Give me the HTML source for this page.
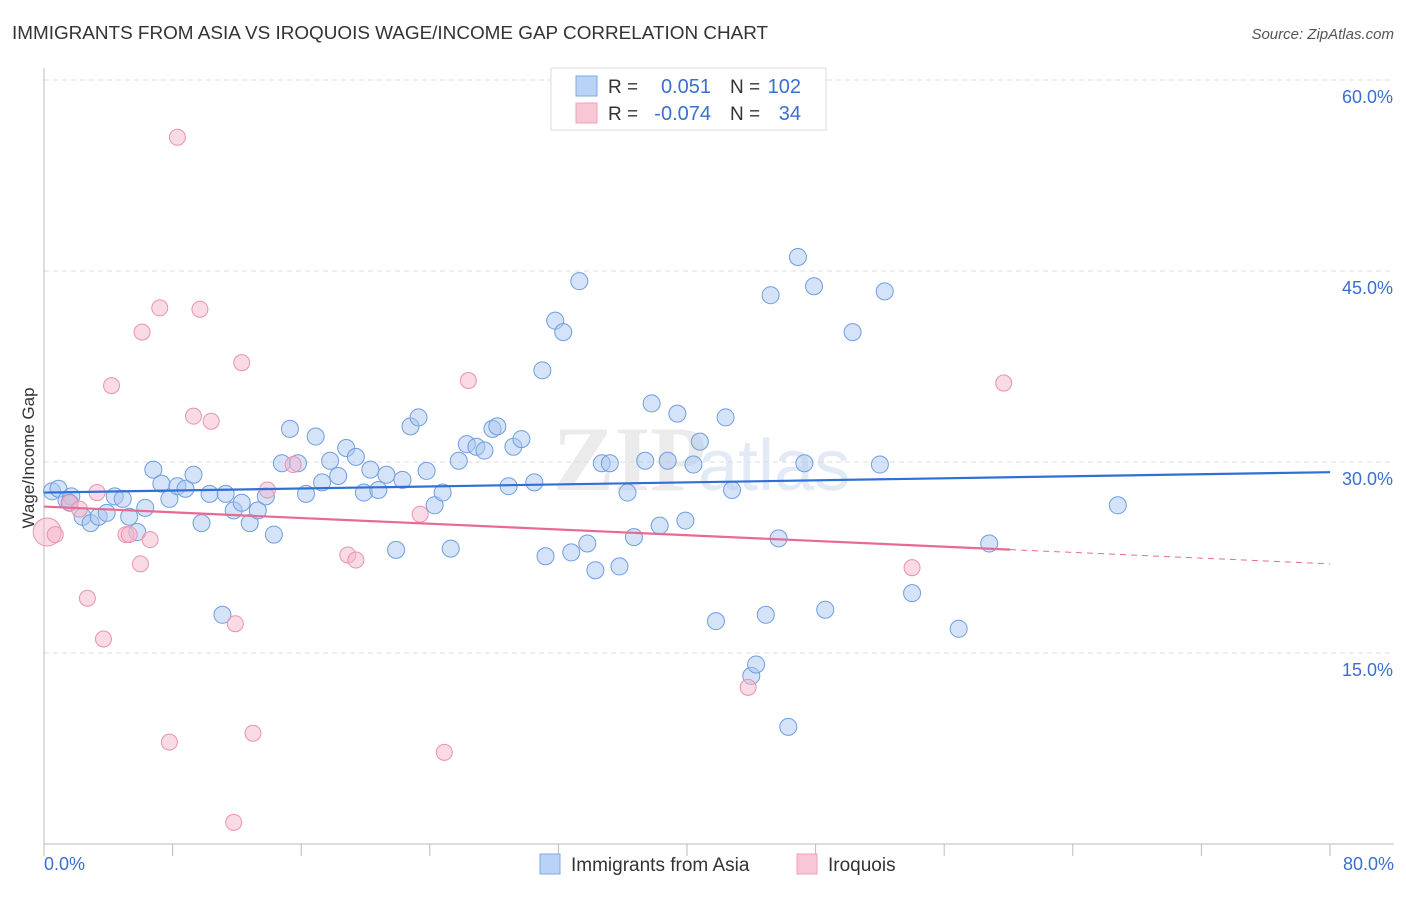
<!DOCTYPE html>
<html><head><meta charset="utf-8"><style>
body{margin:0;background:#fff;font-family:"Liberation Sans",sans-serif;}
svg text{font-family:"Liberation Sans",sans-serif;}
</style></head><body>
<svg id="chart" width="1406" height="892">
<text x="12" y="39" font-size="18.9" fill="#333">IMMIGRANTS FROM ASIA VS IROQUOIS WAGE/INCOME GAP CORRELATION CHART</text>
<text x="1394" y="39" font-size="15" fill="#555" font-style="italic" text-anchor="end">Source: ZipAtlas.com</text>
<text x="34" y="458" font-size="17" fill="#333" text-anchor="middle" transform="rotate(-90 34 458)">Wage/Income Gap</text>
<text x="553" y="490" font-size="92" fill="#ebebeb" style="font-family:'Liberation Serif',serif" font-weight="bold">ZIP</text>
<text x="698" y="490" font-size="72" fill="#e2eaf5">atlas</text>
<g id="grid"></g><g id="axes"></g><g id="pts"></g><g id="lines"></g>
<g>
<rect x="551" y="68" width="275" height="62" fill="#fff" stroke="#ddd"/>
<rect x="576" y="76" width="21" height="20" fill="#b8d3f5" stroke="#7fa8e0"/>
<rect x="576" y="103" width="21" height="20" fill="#f9c6d5" stroke="#eea0b8"/>
<text x="608" y="93" font-size="19" fill="#333">R =</text><text x="711" y="93" font-size="20" fill="#3a6fd0" text-anchor="end">0.051</text>
<text x="730" y="93" font-size="19" fill="#333">N =</text><text x="801" y="93" font-size="20" fill="#3a6fd0" text-anchor="end">102</text>
<text x="608" y="120" font-size="19" fill="#333">R =</text><text x="711" y="120" font-size="20" fill="#3a6fd0" text-anchor="end">-0.074</text>
<text x="730" y="120" font-size="19" fill="#333">N =</text><text x="801" y="120" font-size="20" fill="#3a6fd0" text-anchor="end">34</text>
</g>
<g>
<rect x="540" y="854" width="20" height="20" fill="#b8d3f5" stroke="#7fa8e0"/>
<text x="571" y="871" font-size="19" fill="#333">Immigrants from Asia</text>
<rect x="797" y="854" width="20" height="20" fill="#f9c6d5" stroke="#eea0b8"/>
<text x="828" y="871" font-size="19" fill="#333">Iroquois</text>
</g>
</svg>
<script>
const yTicks=[15,30,45,60];
const xTickLabels=["0.0%","80.0%"];
const asiaX=[0.5,0.9,1.4,1.7,1.6,2.4,2.9,3.4,3.9,4.4,4.9,5.3,5.8,6.3,6.8,7.3,7.8,8.3,8.8,9.3,9.8,10.3,11.1,11.3,11.8,12.3,12.8,13.3,13.8,14.3,14.8,15.3,15.8,16.3,16.9,17.3,17.8,18.3,18.8,19.4,19.9,20.3,20.8,21.3,21.9,22.3,22.8,23.3,23.8,24.3,24.8,25.3,25.8,26.3,26.9,27.4,27.9,28.2,28.9,29.2,29.7,30.5,31.0,31.2,31.8,32.3,32.8,33.3,33.8,34.3,34.7,35.2,35.8,36.3,36.7,37.4,37.8,38.3,38.8,39.4,39.9,40.4,40.8,41.8,42.4,42.8,44.0,44.3,44.9,45.2,45.7,46.3,46.9,47.3,47.9,48.6,50.3,52.0,52.3,54.0,56.9,58.8,66.8];
const asiaY=[27.7,27.9,27.0,27.3,26.8,25.7,25.2,25.7,26.0,27.3,27.1,25.7,24.5,26.4,29.4,28.3,27.1,28.1,27.9,29.0,25.2,27.5,18.0,27.5,26.2,26.8,25.2,26.2,27.3,24.3,29.9,32.6,29.9,27.5,32.0,28.4,30.1,28.9,31.1,30.4,27.6,29.4,27.8,29.0,23.1,28.6,32.8,33.5,29.3,26.6,27.6,23.2,30.1,31.4,31.2,30.9,32.6,32.8,28.1,31.2,31.8,28.4,37.2,22.6,41.1,40.2,22.9,44.2,23.6,21.5,29.9,29.9,21.8,27.6,24.1,30.1,34.6,25.0,30.1,33.8,25.4,29.8,31.6,17.5,33.5,27.8,13.2,14.1,18.0,43.1,24.0,9.2,46.1,29.9,43.8,18.4,40.2,29.8,43.4,19.7,16.9,23.6,26.6];
const iroqX=[0.2,0.7,1.6,2.2,2.7,3.3,3.7,4.2,5.1,5.3,6.0,6.1,6.6,7.2,7.8,8.3,9.3,9.7,10.4,11.8,11.9,12.3,13.0,13.9,15.5,18.9,19.4,23.4,24.9,26.4,43.8,54.0,59.7];
const iroqY=[24.5,24.3,26.8,26.3,19.3,27.6,16.1,36.0,24.3,24.3,22.0,40.2,23.9,42.1,8.0,55.5,33.6,42.0,33.2,1.7,17.3,37.8,8.7,27.8,29.8,22.7,22.3,25.9,7.2,36.4,12.3,21.7,36.2];
const asiaTrend=[27.6,29.2], iroqTrend=[26.5,22.0];
const NS='http://www.w3.org/2000/svg';
const X0=44,X1=1330,Y0=844,YS=764/60;
const xs=v=>X0+(v/80)*(X1-X0), ys=v=>Y0-v*YS;
function mk(tag,a,p){const e=document.createElementNS(NS,tag);for(const k in a)e.setAttribute(k,a[k]);p.appendChild(e);return e;}
const grid=document.getElementById('grid'),axes=document.getElementById('axes');
yTicks.forEach(t=>{
 const l=mk('line',{x1:X0,x2:1394,y1:ys(t),y2:ys(t),stroke:'#ddd','stroke-dasharray':'5,4'},grid);
 
 
 const tx=mk('text',{x:1393,y:ys(t)+23,'font-size':18,fill:'#3a6fd0','text-anchor':'end'},axes);
 tx.textContent=t.toFixed(1)+'%';
 
 
});
const ax=mk('line',{x1:X0,x2:X0,y1:68,y2:Y0,stroke:'#bbb'},axes);


const bx=mk('line',{x1:X0,x2:1394,y1:Y0,y2:Y0,stroke:'#bbb'},axes);


for(let i=0;i<=10;i++){const t=mk('line',{x1:xs(i*8),x2:xs(i*8),y1:Y0,y2:Y0+12,stroke:'#bbb'},axes);
 
 }
[[0,xTickLabels[0],'start',44],[80,xTickLabels[1],'end',1394]].forEach(d=>{
 const t=mk('text',{x:d[3],y:870,'font-size':18,fill:'#3a6fd0','text-anchor':d[2]},axes);t.textContent=d[1];
 
 });
const pts=document.getElementById('pts');
asiaX.forEach((x,i)=>{const c=mk('circle',{cx:xs(x),cy:ys(asiaY[i]),r:8.5,fill:'rgba(169,200,240,0.5)',stroke:'#6f9ee0','stroke-width':1},pts);
 
 });
iroqX.forEach((x,i)=>{const c=mk('circle',{cx:xs(x),cy:ys(iroqY[i]),r:i==0?14:8,fill:'rgba(246,182,202,0.5)',stroke:'#ea92b0','stroke-width':1},pts);
 
 });
const lines=document.getElementById('lines');
const bl=mk('line',{x1:xs(0),y1:ys(asiaTrend[0]),x2:xs(80),y2:ys(asiaTrend[1]),stroke:'#2f6fd6','stroke-width':2.2},lines);


const iy=x=>iroqTrend[0]+(iroqTrend[1]-iroqTrend[0])*x/80;
const pl=mk('line',{x1:xs(0),y1:ys(iy(0)),x2:xs(60.1),y2:ys(iy(60.1)),stroke:'#e86a94','stroke-width':2.2},lines);


const pd=mk('line',{x1:xs(60.1),y1:ys(iy(60.1)),x2:xs(80),y2:ys(iy(80)),stroke:'#e86a94','stroke-width':1,'stroke-dasharray':'6,5'},lines);


</script>
</body></html>
